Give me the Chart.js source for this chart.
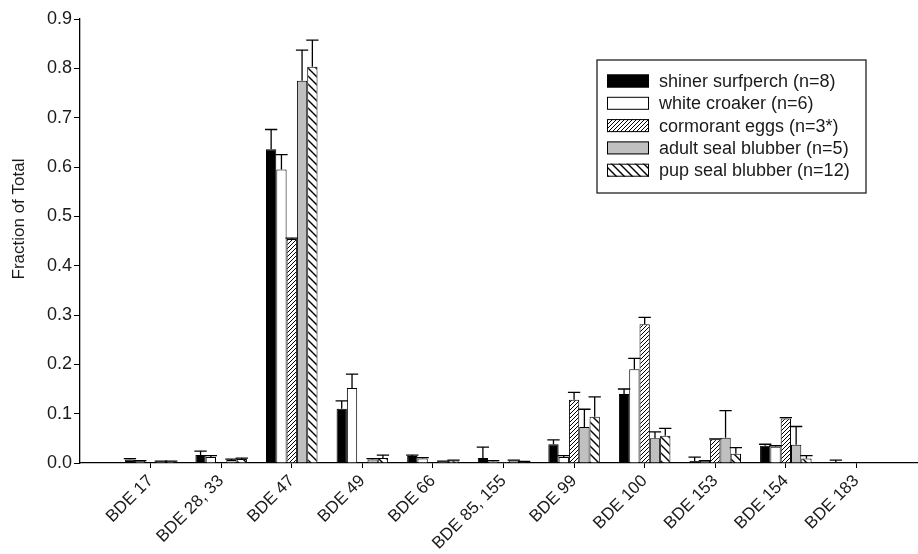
<!DOCTYPE html>
<html>
<head>
<meta charset="utf-8">
<script src="https://cdn.jsdelivr.net/npm/chart.js@4.4.0/dist/chart.umd.min.js"></script>
<style>
  html, body { margin: 0; padding: 0; background: #fff; overflow: hidden; }
  canvas { display: block; }
</style>
</head>
<body>
<canvas id="pbdeChart" width="930" height="554"></canvas>
<script>
// congeners on the x axis
const categories = ["BDE 17", "BDE 28, 33", "BDE 47", "BDE 49", "BDE 66", "BDE 85, 155",
  "BDE 99", "BDE 100", "BDE 153", "BDE 154", "BDE 183"];

const seriesNames = ["shiner surfperch (n=8)", "white croaker (n=6)", "cormorant eggs (n=3*)",
  "adult seal blubber (n=5)", "pup seal blubber (n=12)"];

// fraction of total
const shiner    = [0.007, 0.016, 0.636, 0.110, 0.014, 0.010, 0.038, 0.140, 0.004, 0.035, 0.002];
const croaker   = [0.004, 0.012, 0.595, 0.152, 0.009, 0.003, 0.012, 0.190, 0.004, 0.033, 0.001];
const cormorant = [0.001, 0.001, 0.454, 0.001, 0.001, 0.002, 0.128, 0.281, 0.048, 0.090, 0.001];
const adultSeal = [0.003, 0.006, 0.775, 0.007, 0.003, 0.005, 0.073, 0.050, 0.051, 0.037, 0.001];
const pupSeal   = [0.003, 0.008, 0.803, 0.010, 0.005, 0.002, 0.094, 0.055, 0.019, 0.009, 0.001];

// upper error bars (added on top of the bar)
const shinerErr    = [0.002, 0.008, 0.040, 0.016, 0.002, 0.022, 0.009, 0.010, 0.008, 0.003, 0.004];
const croakerErr   = [0.001, 0.003, 0.030, 0.028, 0.002, 0.002, 0.003, 0.022, 0.001, 0.002, 0.000];
const cormorantErr = [0.000, 0.000, 0.002, 0.000, 0.000, 0.000, 0.015, 0.014, 0.001, 0.002, 0.000];
const adultSealErr = [0.001, 0.002, 0.062, 0.002, 0.001, 0.001, 0.036, 0.013, 0.055, 0.037, 0.000];
const pupSealErr   = [0.001, 0.002, 0.054, 0.006, 0.001, 0.001, 0.040, 0.015, 0.012, 0.006, 0.000];

const yTicks = [0.0, 0.1, 0.2, 0.3, 0.4, 0.5, 0.6, 0.7, 0.8, 0.9];

const FONT = "'Liberation Sans', Arial, sans-serif";

// hatch fills
function makeHatch(size, lineWidth, forward) {
  const c = document.createElement("canvas");
  c.width = size; c.height = size;
  const g = c.getContext("2d");
  g.fillStyle = "#fff";
  g.fillRect(0, 0, size, size);
  g.strokeStyle = "#000";
  g.lineWidth = lineWidth;
  g.beginPath();
  if (forward) { // "/"
    g.moveTo(0, size); g.lineTo(size, 0);
    g.moveTo(-size, size); g.lineTo(size, -size);
    g.moveTo(0, 2 * size); g.lineTo(2 * size, 0);
  } else { // "\"
    g.moveTo(0, 0); g.lineTo(size, size);
    g.moveTo(-size, 0); g.lineTo(size, 2 * size);
    g.moveTo(0, -size); g.lineTo(2 * size, size);
  }
  g.stroke();
  return g.createPattern(c, "repeat");
}

const ctx = document.getElementById("pbdeChart").getContext("2d");
const fineHatch = makeHatch(4, 1, true);
const wideHatch = makeHatch(8, 1.4, false);

const fills = ["#000000", "#ffffff", fineHatch, "#c0c0c0", wideHatch];
const values = [shiner, croaker, cormorant, adultSeal, pupSeal];
const errors = [shinerErr, croakerErr, cormorantErr, adultSealErr, pupSealErr];

// one empty slot on each side, like the original axis
const labels = [""].concat(categories, [""]);
const pad = arr => [null].concat(arr, [null]);

const errorBars = {
  id: "errorBars",
  afterDatasetsDraw(chart) {
    const c = chart.ctx;
    const yScale = chart.scales.y;
    c.save();
    c.strokeStyle = "#000";
    c.lineWidth = 1.3;
    chart.data.datasets.forEach((ds, i) => {
      const meta = chart.getDatasetMeta(i);
      errors[i].forEach((e, j) => {
        if (!e) return;
        const bar = meta.data[j + 1];
        const top = yScale.getPixelForValue(values[i][j] + e);
        const half = bar.width / 2 + 1;
        c.beginPath();
        c.moveTo(bar.x, bar.y);
        c.lineTo(bar.x, top);
        c.moveTo(bar.x - half, top);
        c.lineTo(bar.x + half, top);
        c.stroke();
      });
    });
    c.restore();
  }
};

const boxLegend = {
  id: "boxLegend",
  afterDraw(chart) {
    const c = chart.ctx;
    c.save();
    c.strokeStyle = "#222";
    c.lineWidth = 1.3;
    c.strokeRect(597, 60, 269, 133);
    c.font = "18px " + FONT;
    c.textBaseline = "middle";
    seriesNames.forEach((name, i) => {
      const y = 81 + i * 22.3;
      c.fillStyle = fills[i];
      c.fillRect(607, y - 6.5, 42, 13);
      c.lineWidth = 1;
      c.strokeStyle = "#000";
      c.strokeRect(607.5, y - 6, 41, 12);
      c.fillStyle = "#1a1a1a";
      c.fillText(name, 659, y + 1);
    });
    c.restore();
  }
};

const yTitle = {
  id: "yTitle",
  afterDraw(chart) {
    const c = chart.ctx;
    c.save();
    c.translate(19, 219);
    c.rotate(-Math.PI / 2);
    c.font = "17px " + FONT;
    c.fillStyle = "#1a1a1a";
    c.textAlign = "center";
    c.textBaseline = "middle";
    c.fillText("Fraction of Total", 0, 0);
    c.restore();
  }
};

new Chart(ctx, {
  type: "bar",
  data: {
    labels: labels,
    datasets: values.map((v, i) => ({
      label: seriesNames[i],
      data: pad(v),
      backgroundColor: fills[i],
      borderColor: "#000",
      borderWidth: 1,
      categoryPercentage: 0.73,
      barPercentage: 1.0
    }))
  },
  options: {
    responsive: false,
    animation: false,
    devicePixelRatio: 1,
    layout: { padding: { left: 0, right: 3, top: 19, bottom: 0 } },
    plugins: {
      legend: { display: false },
      tooltip: { enabled: false }
    },
    scales: {
      x: {
        offset: false,
        grid: {
          offset: false,
          drawOnChartArea: false,
          tickLength: 5,
          tickColor: c => (labels[c.index] ? "#000" : "rgba(0,0,0,0)")
        },
        border: { color: "#000", width: 1.3 },
        ticks: {
          autoSkip: false,
          minRotation: 45,
          maxRotation: 45,
          padding: 3,
          color: "#1a1a1a",
          font: { family: FONT, size: 17 }
        },
        afterFit: s => { s.height = 91; s.paddingLeft = 0; s.paddingRight = 0; }
      },
      y: {
        min: 0,
        max: 0.9,
        grid: { drawOnChartArea: false, tickLength: 6, tickColor: "#000" },
        border: { color: "#000", width: 1.3 },
        afterBuildTicks: s => { s.ticks = yTicks.map(v => ({ value: v })); },
        ticks: {
          padding: 2,
          color: "#1a1a1a",
          font: { family: FONT, size: 18 },
          callback: v => Number(v).toFixed(1)
        },
        afterFit: s => { s.width = 80; s.paddingTop = 0; s.paddingBottom = 0; }
      }
    }
  },
  plugins: [errorBars, boxLegend, yTitle]
});
</script>
</body>
</html>
